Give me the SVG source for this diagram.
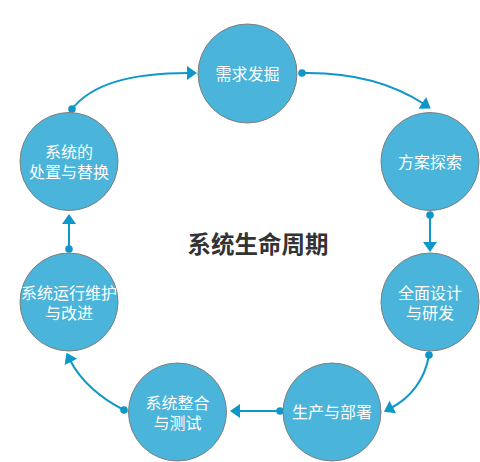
<svg xmlns="http://www.w3.org/2000/svg" width="480" height="462" viewBox="0 0 480 462">
<style>
.n{fill:#4AB4DA;stroke:#7F7F7F;stroke-width:1}
.t{fill:#fff;font-family:"Noto Sans CJK SC","Liberation Sans",sans-serif;font-size:16px;text-anchor:middle}
.c{fill:none;stroke:#0E97C8;stroke-width:2;marker-start:url(#dot);marker-end:url(#arr)}
</style>
<defs>
<marker id="arr" markerUnits="userSpaceOnUse" markerWidth="14" markerHeight="16" viewBox="0 -8 12 16" refX="2" refY="0" orient="auto">
<path d="M0,-7 L10,0 L0,7 z" fill="#0E97C8"/>
</marker>
<marker id="dot" markerUnits="userSpaceOnUse" markerWidth="10" markerHeight="10" viewBox="-5 -5 10 10" refX="0" refY="0">
<circle r="3.8" fill="#0E97C8"/>
</marker>
</defs>
<rect width="480" height="462" fill="#fff"/>
<g id="connectors">
<path class="c" d="M72,109 C92,84 130,73 189,73"/>
<path class="c" d="M302,73 C355,72 395,85 424,104"/>
<path class="c" d="M430,215 L430,244"/>
<path class="c" d="M429,355 C425,380 410,398 391,408"/>
<path class="c" d="M280,411 L238,411"/>
<path class="c" d="M124,410 C100,398 80,380 70,360"/>
<path class="c" d="M69,249 L69,222"/>
</g>
<g id="n1"><circle class="n" cx="247.5" cy="73.5" r="49.5"/><text class="t" x="247.5" y="79.5">需求发掘</text></g>
<g id="n2"><circle class="n" cx="430" cy="161.5" r="49"/><text class="t" x="430" y="167.5">方案探索</text></g>
<g id="n3"><circle class="n" cx="430" cy="302" r="49"/><text class="t" x="430" y="298.5">全面设计</text><text class="t" x="430" y="318.5">与研发</text></g>
<g id="n4"><circle class="n" cx="332" cy="412" r="49"/><text class="t" x="332" y="418">生产与部署</text></g>
<g id="n5"><circle class="n" cx="177.5" cy="412" r="49"/><text class="t" x="177.5" y="408.5">系统整合</text><text class="t" x="177.5" y="428.5">与测试</text></g>
<g id="n6"><circle class="n" cx="69" cy="302" r="49"/><text class="t" x="69" y="298.5">系统运行维护</text><text class="t" x="69" y="318.5">与改进</text></g>
<g id="n7"><circle class="n" cx="69" cy="161.5" r="49"/><text class="t" x="69" y="158">系统的</text><text class="t" x="69" y="178">处置与替换</text></g>
<text x="258" y="253" font-family="'Noto Sans CJK SC','Liberation Sans',sans-serif" font-size="23.5" font-weight="bold" fill="#333" text-anchor="middle">系统生命周期</text>
</svg>
